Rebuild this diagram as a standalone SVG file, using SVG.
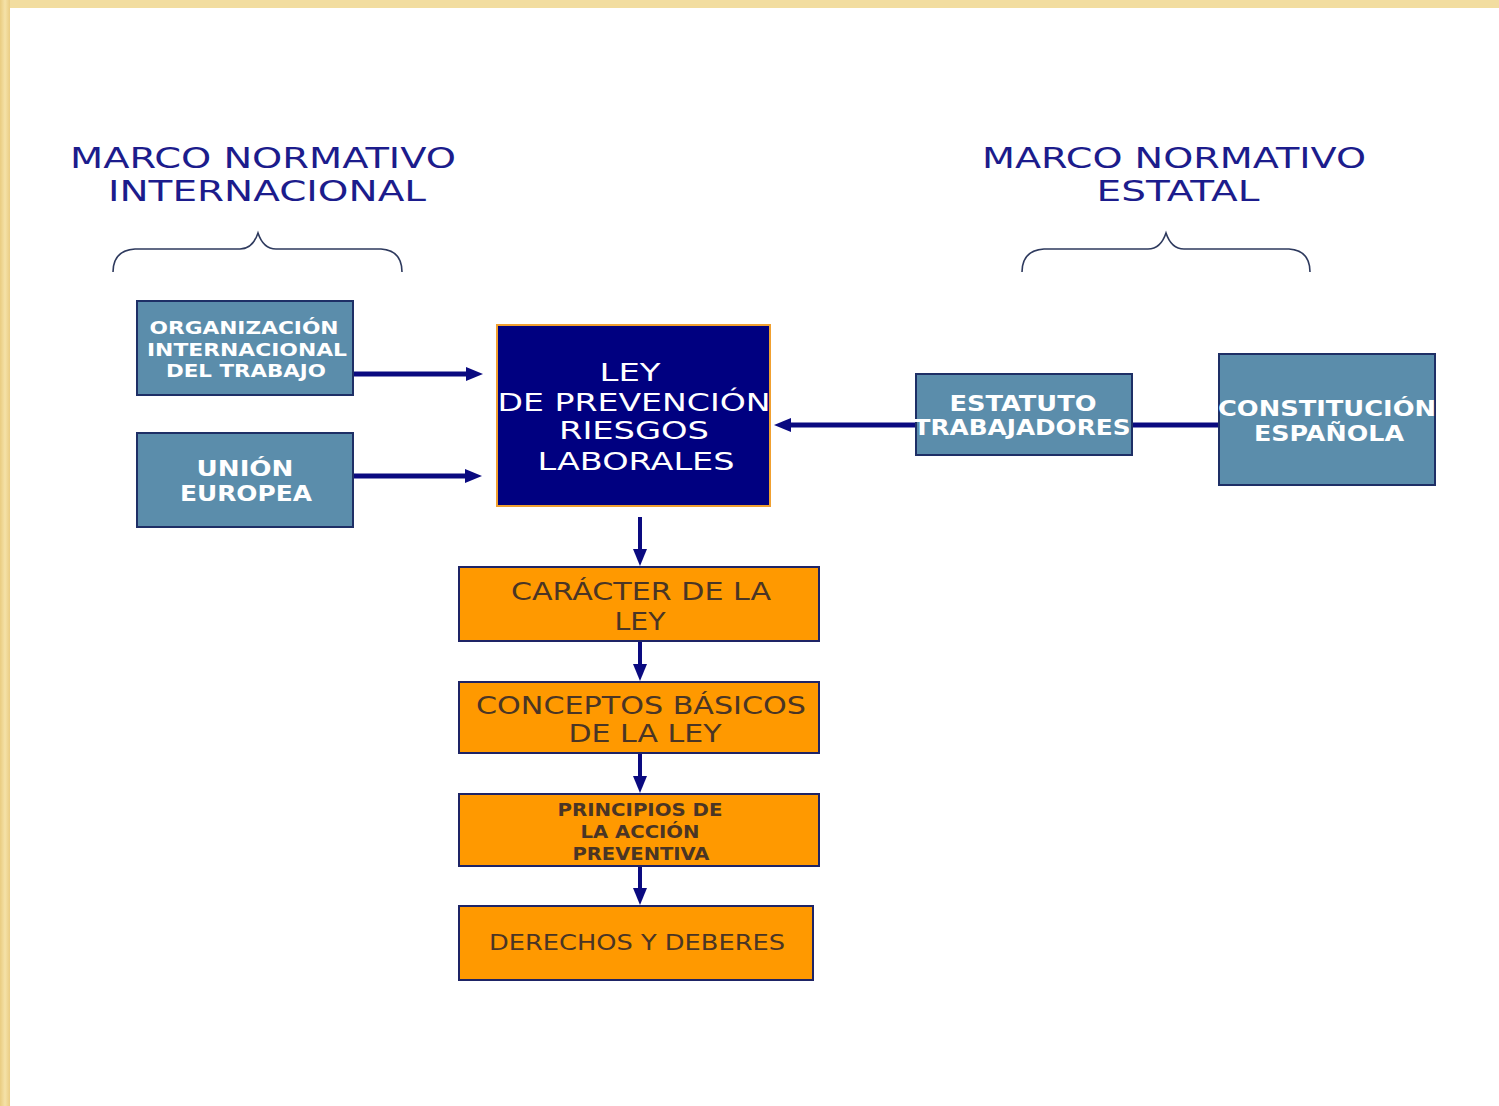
<svg xmlns="http://www.w3.org/2000/svg" width="1499" height="1106" viewBox="0 0 1499 1106">
<defs>
<marker id="ah" markerUnits="userSpaceOnUse" markerWidth="18" markerHeight="18" viewBox="0 0 18 18" refX="2" refY="9" orient="auto">
<path d="M0,2 L17,9 L0,16 Z" fill="#0a0a80"/>
</marker>
<linearGradient id="gold" x1="0" y1="0" x2="1" y2="0">
<stop offset="0" stop-color="#E9CC80"/><stop offset="0.5" stop-color="#F5E2A8"/><stop offset="1" stop-color="#EACD84"/>
</linearGradient>
</defs>
<style>
.title{font-family:"DejaVu Sans",sans-serif;font-size:29px;fill:#1c1c8c;text-anchor:middle}
.blue rect{fill:#5B8DAB;stroke:#1e2f66;stroke-width:2}
.blue text{font-family:"DejaVu Sans",sans-serif;font-weight:bold;fill:#ffffff;text-anchor:middle}
.ley rect{fill:#000080;stroke:#f0a030;stroke-width:2}
.ley text{font-family:"DejaVu Sans",sans-serif;font-size:25px;fill:#ffffff;text-anchor:middle}
.orange rect{fill:#FF9900;stroke:#1e2466;stroke-width:2}
.orange text{font-family:"DejaVu Sans",sans-serif;fill:#4a3525;text-anchor:middle}
.brace{fill:none;stroke:#2e3a5e;stroke-width:1.6}
.conn line{stroke:#0a0a80;stroke-width:5}
.conn line.v{stroke-width:4}
</style>
<rect width="1499" height="1106" fill="#ffffff"/>
<rect x="0" y="0" width="1499" height="8" fill="#F2DDA0"/>
<rect x="0" y="0" width="10" height="1106" fill="url(#gold)"/>

<g id="title-internacional">
<text class="title" x="263" y="168" textLength="386" lengthAdjust="spacingAndGlyphs">MARCO NORMATIVO</text>
<text class="title" x="267" y="201" textLength="318" lengthAdjust="spacingAndGlyphs">INTERNACIONAL</text>
<path class="brace" d="M113,272 C113,258 120,250 135,249 L240,249 C248,249 254,245 258,233 C262,245 268,249 276,249 L381,249 C396,250 402,258 402,272"/>
</g>
<g id="title-estatal">
<text class="title" x="1174" y="168" textLength="384" lengthAdjust="spacingAndGlyphs">MARCO NORMATIVO</text>
<text class="title" x="1178" y="201" textLength="163" lengthAdjust="spacingAndGlyphs">ESTATAL</text>
<path class="brace" d="M1022,272 C1022,258 1029,250 1044,249 L1148,249 C1156,249 1162,245 1166,233 C1170,245 1176,249 1184,249 L1289,249 C1304,250 1310,258 1310,272"/>
</g>

<g id="connectors" class="conn">
<line x1="353" y1="374" x2="468" y2="374" marker-end="url(#ah)"/>
<line x1="353" y1="476" x2="467" y2="476" marker-end="url(#ah)"/>
<line x1="1219" y1="425" x2="1132" y2="425"/>
<line x1="916" y1="425" x2="789" y2="425" marker-end="url(#ah)"/>
<line class="v" x1="640" y1="517" x2="640" y2="551" marker-end="url(#ah)"/>
<line class="v" x1="640" y1="641" x2="640" y2="666" marker-end="url(#ah)"/>
<line class="v" x1="640" y1="753" x2="640" y2="778" marker-end="url(#ah)"/>
<line class="v" x1="640" y1="866" x2="640" y2="890" marker-end="url(#ah)"/>
</g>

<g id="oit" class="blue">
<rect x="137" y="301" width="216" height="94"/>
<text x="244" y="334" font-size="17" textLength="189" lengthAdjust="spacingAndGlyphs">ORGANIZACIÓN</text>
<text x="247" y="356" font-size="17" textLength="200" lengthAdjust="spacingAndGlyphs">INTERNACIONAL</text>
<text x="246" y="377" font-size="17" textLength="160" lengthAdjust="spacingAndGlyphs">DEL TRABAJO</text>
</g>
<g id="ue" class="blue">
<rect x="137" y="433" width="216" height="94"/>
<text x="245" y="476" font-size="21" textLength="97" lengthAdjust="spacingAndGlyphs">UNIÓN</text>
<text x="246" y="501" font-size="21" textLength="132" lengthAdjust="spacingAndGlyphs">EUROPEA</text>
</g>
<g id="ley" class="ley">
<rect x="497" y="325" width="273" height="181"/>
<text x="630" y="381" textLength="61" lengthAdjust="spacingAndGlyphs">LEY</text>
<text x="634" y="411" textLength="273" lengthAdjust="spacingAndGlyphs">DE PREVENCIÓN</text>
<text x="634" y="439" textLength="150" lengthAdjust="spacingAndGlyphs">RIESGOS</text>
<text x="636" y="470" textLength="197" lengthAdjust="spacingAndGlyphs">LABORALES</text>
</g>
<g id="estatuto" class="blue">
<rect x="916" y="374" width="216" height="81"/>
<text x="1023" y="411" font-size="21" textLength="147" lengthAdjust="spacingAndGlyphs">ESTATUTO</text>
<text x="1022" y="435" font-size="21" textLength="217" lengthAdjust="spacingAndGlyphs">TRABAJADORES</text>
</g>
<g id="constitucion" class="blue">
<rect x="1219" y="354" width="216" height="131"/>
<text x="1327" y="416" font-size="21" textLength="218" lengthAdjust="spacingAndGlyphs">CONSTITUCIÓN</text>
<text x="1329" y="441" font-size="21" textLength="150" lengthAdjust="spacingAndGlyphs">ESPAÑOLA</text>
</g>
<g id="caracter" class="orange">
<rect x="459" y="567" width="360" height="74"/>
<text x="641" y="600" font-size="25" textLength="260" lengthAdjust="spacingAndGlyphs">CARÁCTER DE LA</text>
<text x="640" y="630" font-size="25" textLength="51" lengthAdjust="spacingAndGlyphs">LEY</text>
</g>
<g id="conceptos" class="orange">
<rect x="459" y="682" width="360" height="71"/>
<text x="641" y="714" font-size="25" textLength="330" lengthAdjust="spacingAndGlyphs">CONCEPTOS BÁSICOS</text>
<text x="645" y="742" font-size="25" textLength="153" lengthAdjust="spacingAndGlyphs">DE LA LEY</text>
</g>
<g id="principios" class="orange">
<rect x="459" y="794" width="360" height="72"/>
<text x="640" y="816" font-size="17" font-weight="bold" textLength="165" lengthAdjust="spacingAndGlyphs">PRINCIPIOS DE</text>
<text x="640" y="838" font-size="17" font-weight="bold" textLength="119" lengthAdjust="spacingAndGlyphs">LA ACCIÓN</text>
<text x="641" y="860" font-size="17" font-weight="bold" textLength="137" lengthAdjust="spacingAndGlyphs">PREVENTIVA</text>
</g>
<g id="derechos" class="orange">
<rect x="459" y="906" width="354" height="74"/>
<text x="637" y="950" font-size="22" textLength="296" lengthAdjust="spacingAndGlyphs">DERECHOS Y DEBERES</text>
</g>
</svg>
